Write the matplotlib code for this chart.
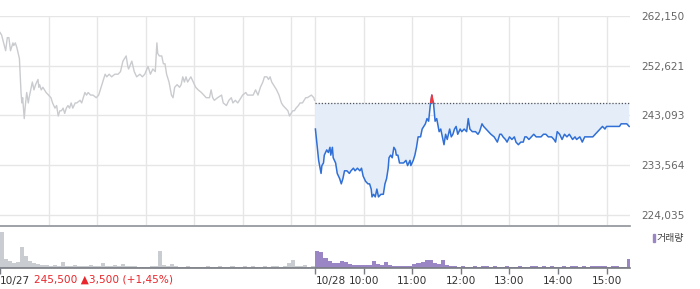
import matplotlib
matplotlib.use("Agg")
import matplotlib.pyplot as plt
from matplotlib.patches import Rectangle

plt.rcParams['font.family'] = ['DejaVu Sans', 'Noto Sans CJK KR']

# 10/27 (이전일) 분 단위 시간(09:00 기준)과 가격
day1_t = [0, 2, 7, 9, 11, 13, 16, 17, 19, 21, 24, 26, 27, 28, 30, 31, 33, 35, 36, 38,
          40, 42, 44, 47, 48, 49, 51, 53, 57, 60, 63, 65, 68, 70, 72, 74, 76, 78, 80, 82,
          84, 86, 88, 90, 93, 95, 99, 101, 103, 105, 107, 109, 112, 115, 119, 122, 125, 127, 130, 132,
          135, 138, 142, 146, 149, 152, 156, 158, 159, 163, 166, 169, 173, 176, 179, 183, 186, 189, 192, 194,
          195, 197, 200, 202, 204, 206, 209, 212, 214, 216, 219, 222, 224, 226, 228, 230, 232, 236, 239, 242,
          245, 249, 252, 255, 259, 261, 263, 265, 269, 274, 276, 280, 283, 286, 288, 291, 294, 298, 300, 304,
          306, 309, 313, 316, 319, 322, 325, 327, 330, 332, 334, 336, 338, 342, 345, 348, 350, 353, 356, 358,
          360, 362, 364, 366, 369, 371, 374, 376, 378, 380, 385, 388, 389]
day1_p = [259000, 258500, 255500, 258000, 258000, 255500, 257000, 256500, 257000, 256000,
          254000, 247500, 245500, 246500, 242500, 244500, 247500, 245500, 246500, 248000,
          249500, 248000, 249000, 250000, 248500, 249000, 248000, 248500, 247500, 247000,
          246500, 245500, 244500, 245000, 243000, 244000, 244000, 244500, 243500, 244500,
          245000, 244500, 245500, 244500, 245500, 245500, 246000, 245500, 246500, 247500,
          247000, 247500, 247000, 247000, 246500, 247000, 248500, 249500, 251000, 250500,
          251000, 250500, 251000, 251000, 251500, 253500, 254500, 252500, 252000, 253500,
          251500, 250500, 251000, 250500, 251000, 252500, 251000, 252000, 251500, 257000,
          255000, 254500, 254500, 253000, 253000, 251000, 249500, 247000, 246500, 248500,
          249000, 248500, 249000, 250500, 249500, 250500, 249500, 250500, 249500, 248500,
          248000, 247500, 247000, 246500, 246500, 248000, 246500, 246000, 246500, 247000,
          245500, 245000, 246000, 246500, 245500, 246000, 245500, 246500, 247000, 247500,
          247000, 247000, 247000, 248000, 247000, 248500, 249500, 250500, 250500, 250000,
          250500, 249500, 249000, 248000, 247000, 245500, 245000, 244500, 244000, 243000,
          243500, 244000, 244000, 244500, 245000, 245500, 245500, 246000, 246500, 246500,
          247000, 246500, 246000]

# 10/28 (당일)
day2_t = [0, 2, 4, 7, 8, 10, 11, 14, 16, 18, 19, 21, 22, 25, 27, 30, 32, 34, 36, 39,
          42, 44, 47, 49, 52, 55, 57, 59, 62, 65, 67, 69, 70, 72, 74, 76, 78, 81, 84, 86,
          88, 90, 91, 93, 95, 97, 99, 100, 102, 104, 106, 109, 112, 114, 117, 118, 121, 123, 125, 127,
          130, 132, 134, 136, 138, 140, 142, 144, 145, 146, 148, 150, 153, 155, 157, 159, 161, 163, 166, 168,
          170, 172, 174, 176, 179, 181, 184, 187, 189, 191, 194, 198, 201, 203, 206, 208, 211, 214, 217, 221,
          223, 225, 228, 230, 232, 235, 237, 240, 243, 246, 248, 251, 254, 257, 259, 261, 264, 267, 270, 273,
          276, 279, 282, 285, 288, 292, 295, 297, 299, 302, 305, 308, 311, 314, 318, 321, 323, 327, 330, 333,
          336, 339, 343, 346, 349, 352, 355, 358, 360, 364, 367, 370, 373, 376, 378, 382, 385, 388]
day2_p = [240500, 237500, 234500, 232000, 233500, 234000, 235500, 236500, 236000, 237000,
          235500, 237000, 235000, 234000, 232000, 231000, 230000, 231000, 232500, 232500,
          232000, 232500, 233000, 232500, 233000, 232500, 233000, 231500, 230500, 230000,
          230000, 229000, 227500, 228000, 227500, 229000, 227500, 228000, 228000, 230000,
          231000, 233000, 235000, 235500, 235000, 237000, 236500, 235500, 235500, 234000,
          234000, 234000, 234500, 233500, 234500, 233500, 234500, 235500, 237000, 239000,
          239000, 240500, 241000, 241500, 242500, 242000, 245000, 247000, 246000, 245500,
          242000, 242500, 240000, 240500, 239000, 237500, 239500, 238500, 240500, 239000,
          239500, 240500, 241000, 239500, 240500, 240000, 240500, 240000, 242500, 240500,
          240000, 240000, 239500, 240000, 241500, 241000, 240500, 240000, 239500, 239000,
          238500, 238000, 239500, 239500, 239000, 238500, 238000, 239000, 238500, 239000,
          238000, 237500, 238000, 238000, 239000, 239000, 238500, 239000, 239500, 239000,
          239000, 239000, 239500, 239500, 239000, 239000, 238500, 238000, 240000, 239500,
          238500, 239500, 239000, 239500, 238500, 239000, 238500, 239000, 238000, 239000,
          239000, 239000, 239000, 239500, 240000, 240500, 241000, 240500, 241000, 241000,
          241000, 241000, 241000, 241000, 241500, 241500, 241500, 241000]

prev_close = 245500

# 5분 단위 거래량
day1_vol = [36, 9, 7, 5, 6, 21, 12, 7, 5, 4,
            3, 3, 2, 3, 2, 6, 2, 2, 3, 2,
            2, 2, 3, 2, 2, 5, 2, 2, 3, 2,
            4, 2, 2, 2, 1, 1, 1, 2, 2, 17,
            3, 2, 4, 2, 1, 1, 2, 1, 1, 1,
            1, 2, 1, 1, 2, 1, 1, 2, 1, 1,
            2, 1, 2, 1, 1, 2, 1, 2, 2, 1,
            2, 5, 8, 2, 2, 3, 1, 2]
day2_vol = [17, 16, 10, 7, 5, 5, 7, 6, 4, 3,
            3, 3, 3, 3, 7, 4, 3, 6, 3, 2,
            2, 2, 2, 2, 4, 5, 6, 8, 8, 5,
            4, 8, 3, 2, 2, 1, 2, 1, 1, 2,
            1, 2, 2, 1, 2, 1, 1, 2, 1, 1,
            2, 1, 1, 2, 2, 1, 2, 1, 2, 1,
            1, 2, 1, 2, 2, 1, 2, 1, 2, 2,
            2, 2, 1, 2, 2, 1, 1, 9]

y_ticks = [224035, 233564, 243093, 252621, 262150]
hour_labels = ['10:00', '11:00', '12:00', '13:00', '14:00', '15:00']

DAY = 390
t2 = [DAY + t for t in day2_t]

fig = plt.figure(figsize=(7, 2.89), dpi=100)
W, H = 700, 289
ax = fig.add_axes([0, 1 - 225 / H, 630 / W, 209 / H])
axv = fig.add_axes([0, 1 - 268 / H, 630 / W, 42 / H])

grid_c = '#e6e6e6'
xmax = 2 * DAY - 1
for a in (ax, axv):
    a.set_xlim(0, xmax)

# 가격 차트
step = (y_ticks[1] - y_ticks[0])
ax.set_ylim(y_ticks[0] - step * 10 / 199 * 4, y_ticks[-1])
for v in y_ticks:
    ax.axhline(v, color=grid_c, lw=1, zorder=0)
vlines = [60 * i for i in range(1, 7)] + [DAY] + [DAY + 60 * i for i in range(1, 7)]
for x in vlines:
    ax.axvline(x, color=grid_c, lw=1, zorder=0)

ax.plot(day1_t, day1_p, color='#c9cbcf', lw=1)
ax.fill_between(t2, day2_p, prev_close, where=[p <= prev_close for p in day2_p],
                interpolate=True, color='#e5edf9', lw=0)
ax.plot([DAY, xmax], [prev_close, prev_close], color='#555555', lw=0.9, ls=(0, (1, 1.5)))
ax.plot(t2, day2_p, color='#2f6fd6', lw=1.1)
red, = ax.plot(t2, day2_p, color='#ff3333', lw=1.1)
clip = Rectangle((DAY, prev_close), DAY, 30000, transform=ax.transData)
red.set_clip_path(clip)
ax.fill_between(t2, day2_p, prev_close, where=[p > prev_close for p in day2_p],
                interpolate=True, color='#ff6666', lw=0)

ax.set_xticks([])
ax.yaxis.tick_right()
ax.set_yticks(y_ticks)
ax.set_yticklabels([f'{v:,}' for v in y_ticks], fontsize=7.6, color='#666666')
ax.tick_params(axis='y', length=0, pad=8)
for s in ax.spines.values():
    s.set_visible(False)

# 거래량 차트
axv.bar([5 * i for i in range(len(day1_vol))], day1_vol, width=5, align='edge',
        color='#c9ccd1', lw=0)
axv.bar([DAY + 5 * i for i in range(len(day2_vol))], day2_vol, width=5, align='edge',
        color='#9a86c4', lw=0)
axv.set_ylim(0, 42)
axv.set_yticks([])
axv.spines['left'].set_visible(False)
axv.spines['right'].set_visible(False)
axv.spines['top'].set_color('#8e9196')
axv.spines['top'].set_linewidth(1.2)
axv.spines['bottom'].set_color('#777a80')
axv.spines['bottom'].set_linewidth(1.2)

xt = [0, DAY] + [DAY + 60 * i for i in range(1, 7)]
axv.set_xticks(xt)
axv.set_xticklabels(['10/27', '10/28'] + hour_labels, fontsize=7.6, color='#333333')
axv.tick_params(axis='x', length=4, width=1, color='#777a80', pad=2)
for lab in axv.get_xticklabels()[:2]:
    lab.set_horizontalalignment('left')

fig.text(34 / W, 1 - 280 / H, '245,500 \u25b23,500 (+1,45%)', fontsize=7.6,
         color='#e8262b', va='center', ha='left')

# 범례
fig.patches.append(Rectangle((652.5 / W, 1 - 242 / H), 2.8 / W, 8 / H,
                             transform=fig.transFigure, color='#9a86c4'))
fig.text(657 / W, 1 - 238 / H, '거래량', fontsize=7.2, color='#444444',
         va='center', ha='left')

fig.savefig('out.png', dpi=100)
